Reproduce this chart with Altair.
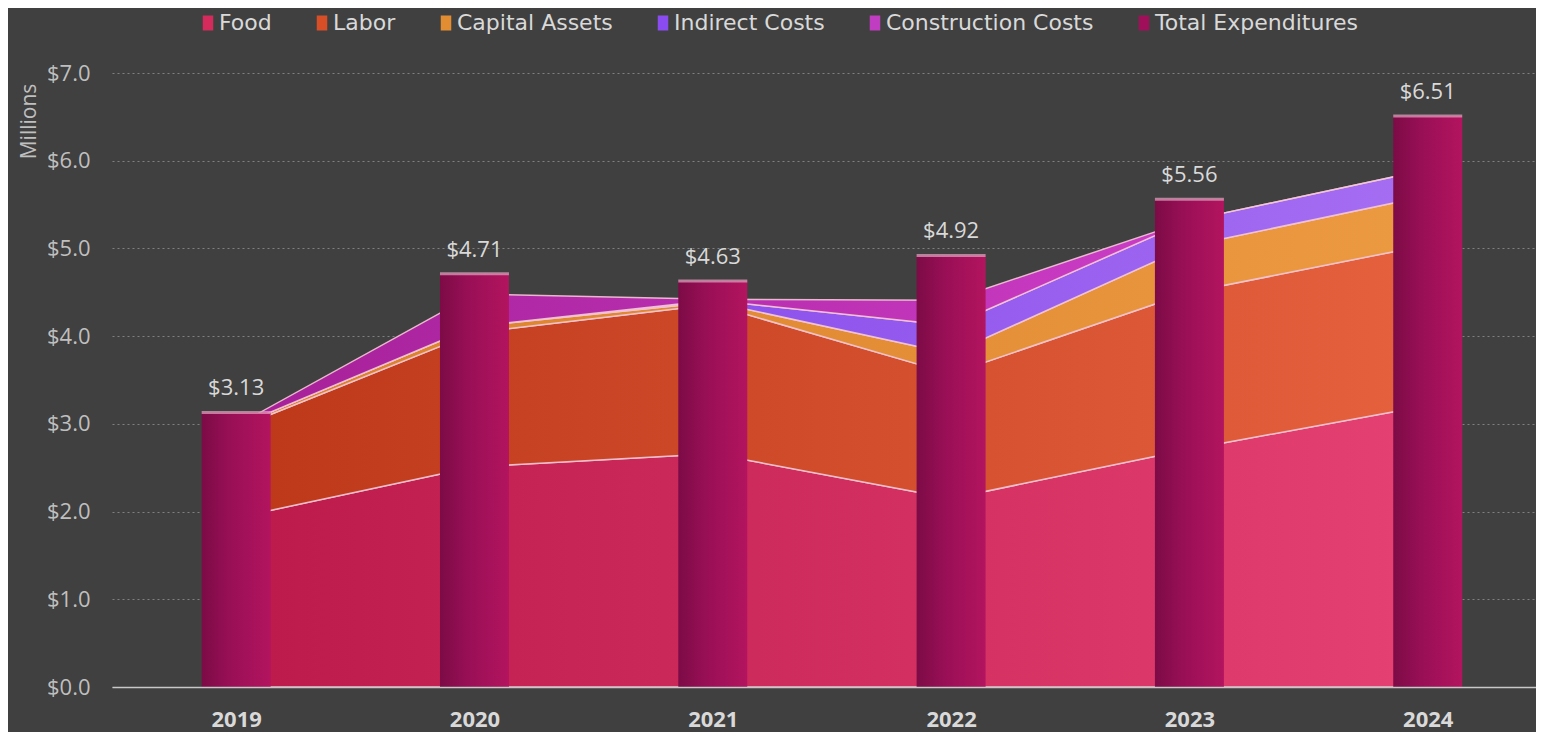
import altair as alt
import pandas as pd

FONT = "Open Sans"
LEG_FONT = "DejaVu Sans"

years = [2019, 2020, 2021, 2022, 2023, 2024]
food = [1.93, 2.51, 2.66, 2.15, 2.71, 3.21]
labor = [1.02, 1.53, 1.70, 1.42, 1.79, 1.83]
capital = [0.02, 0.07, 0.03, 0.23, 0.53, 0.56]
indirect = [0.00, 0.00, 0.02, 0.32, 0.29, 0.30]
construction = [0.01, 0.37, 0.01, 0.29, 0.00, 0.00]
totals = [3.13, 4.71, 4.63, 4.92, 5.56, 6.51]

series_names = ["Food", "Labor", "Capital Assets", "Indirect Costs", "Construction Costs"]
legend_names = series_names + ["Total Expenditures"]
legend_colors = ["#d42a5c", "#d74e27", "#e38d33", "#8a4cf0", "#c03cc0", "#a0105a"]
area_grad = {
    "Food": ("#bb1a4a", "#e54172"),
    "Labor": ("#bc3819", "#e6613e"),
    "Capital Assets": ("#d98029", "#ec9a42"),
    "Indirect Costs": ("#7c3ee8", "#a66ef2"),
    "Construction Costs": ("#a62098", "#d444d2"),
}

rows = []
for i, yr in enumerate(years):
    base = 0.0
    for name, vals in zip(series_names, [food, labor, capital, indirect, construction]):
        rows.append({"year": yr, "series": name, "y0": base, "y1": base + vals[i]})
        base += vals[i]
area_df = pd.DataFrame(rows)
tot_df = pd.DataFrame({"year": years, "total": totals})
leg_df = pd.concat([
    area_df[["year", "series", "y1"]],
    pd.DataFrame({"year": years, "series": "Total Expenditures", "y1": totals}),
], ignore_index=True)

W = 1424
xs = alt.Scale(domain=[2018.5, 2018.5 + W / 240.0], nice=False, zero=False)
ys = alt.Scale(domain=[0, 7], nice=False)


def lin(c0, c1, mid=None):
    stops = [{"offset": 0, "color": c0}]
    if mid:
        stops.append({"offset": 0.4, "color": mid})
    stops.append({"offset": 1, "color": c1})
    return {"gradient": "linear", "x1": 0, "y1": 0, "x2": 1, "y2": 0, "stops": stops}


x_axis = alt.Axis(values=years, format="d", labelFontSize=22, labelFontWeight="bold",
                  labelColor="#d9d9d9", labelFont=FONT, labelPadding=22, ticks=False,
                  grid=False, domainColor="#c8c8c8", domainWidth=1.5, title=None, zindex=1)
y_axis = alt.Axis(values=[0, 1, 2, 3, 4, 5, 6, 7], format="$.1f", labelFontSize=22,
                  labelColor="#bfbfbf", labelFont=FONT, labelPadding=22, ticks=False,
                  domain=False, grid=True, gridColor="#808080", gridDash=[2, 3],
                  gridWidth=1, title="Millions", titleFont=FONT, titleFontSize=21,
                  titleFontWeight="normal", titleColor="#bfbfbf", titleAngle=270,
                  titleX=-83, titleY=48, titleAlign="center", titleBaseline="middle")

X = alt.X("year:Q", scale=xs, axis=x_axis)

legend_layer = alt.Chart(leg_df).mark_point(filled=True, opacity=0).encode(
    x=X,
    y=alt.Y("y1:Q", scale=ys, axis=y_axis),
    color=alt.Color("series:N", scale=alt.Scale(domain=legend_names, range=legend_colors),
                    legend=alt.Legend(orient="none", legendX=85, legendY=-61,
                                      direction="horizontal", title=None,
                                      symbolType="M-0.7,-1H0.7V1H-0.7Z", symbolSize=225,
                                      symbolOpacity=1, symbolStrokeWidth=0,
                                      labelFontSize=22, labelColor="#d9d9d9", labelFont=LEG_FONT,
                                      labelOffset=0, columnPadding=39, padding=0,
                                      labelLimit=400)),
)

area_layers = []
for name in series_names:
    c0, c1 = area_grad[name]
    area_layers.append(
        alt.Chart(area_df).transform_filter(alt.FieldEqualPredicate(field="series", equal=name))
        .mark_area(fill=lin(c0, c1), stroke="#f4c6d6", strokeWidth=1.5, strokeOpacity=0.9,
                   strokeJoin="round")
        .encode(x=X,
                y=alt.Y("y1:Q", scale=ys, axis=y_axis),
                y2="y0:Q")
    )

bars = alt.Chart(tot_df).mark_bar(size=69, fill=lin("#7c0b46", "#b3145f", "#980f56")).encode(
    x=X,
    y=alt.Y("total:Q", scale=ys, axis=y_axis),
)
caps = alt.Chart(tot_df).mark_tick(orient="horizontal", size=69, thickness=3, color="#e6a4c2").encode(
    x=X,
    y=alt.Y("total:Q", scale=ys, axis=y_axis),
)
labels = alt.Chart(tot_df).mark_text(dy=-24, fontSize=22, font=FONT, color="#d9d9d9").encode(
    x=X,
    y=alt.Y("total:Q", scale=ys, axis=y_axis),
    text=alt.Text("total:Q", format="$.2f"),
)

chart = alt.layer(legend_layer, *area_layers, bars, caps, labels).properties(
    width=W, height=614,
    autosize=alt.AutoSizeParams(type="none"),
    padding={"left": 104, "top": 65, "right": 0, "bottom": 45},
    background="#404040",
).configure_view(stroke=None)

chart.save("out.html", embed_options={"renderer": "svg", "actions": False})
